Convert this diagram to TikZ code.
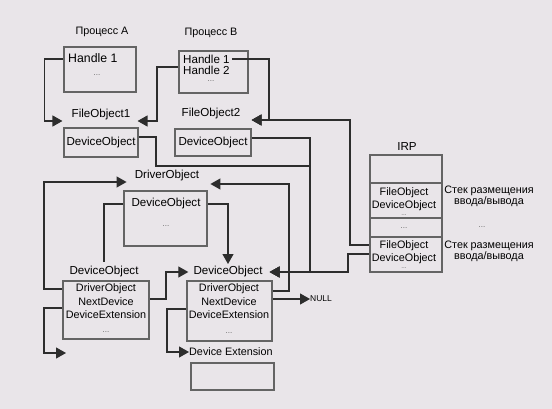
\documentclass[tikz,border=0pt]{standalone}
\usepackage{fontspec}
\setmainfont{Liberation Sans}
\usetikzlibrary{arrows.meta,calc}
\definecolor{bg}{RGB}{233,229,233}
\definecolor{boxc}{RGB}{100,100,100}
\definecolor{linec}{RGB}{45,45,45}
\begin{document}
\begin{tikzpicture}[x=1pt,y=-1pt,
  box/.style={draw=boxc,line width=1.6pt,inner sep=0pt},
  lbl/.style={inner sep=0pt,font=\fontsize{11.6}{13}\selectfont},
  plbl/.style={inner sep=0pt,font=\fontsize{10.8}{12}\selectfont},
  fld/.style={inner sep=0pt,font=\fontsize{10.8}{12}\selectfont},
  hnd/.style={inner sep=0pt,anchor=west,font=\fontsize{11.6}{12}\selectfont},
  dots/.style={inner sep=0pt,text=boxc,font=\fontsize{8}{9}\selectfont},
  conn/.style={draw=linec,line width=1.2pt,-{Triangle[length=10pt,width=11pt]}},
  plain/.style={draw=linec,line width=1.2pt}]
\fill[bg] (0,0) rectangle (552,409);
\useasboundingbox (0,0) rectangle (552,409);

% processes
\node[plbl] (lpa) at (102,32) {Процесс A};
\node[plbl] (lpb) at (211,33) {Процесс B};
\node[box,minimum width=72pt,minimum height=45pt] (pa) at (100,69.5) {};
\node[hnd,font=\fontsize{12.3}{13}\selectfont] (h1a) at (68,58) {Handle 1};
\node[dots] (da) at (97,75) {...};
\node[box,minimum width=69pt,minimum height=42pt] (pb) at (213.5,72) {};
\node[hnd] (h1b) at (183,59) {Handle 1};
\node[hnd] (h2b) at (183,70) {Handle 2};
\node[dots] (db) at (211,81.5) {...};

% file objects
\node[lbl] (fo1) at (101,115) {FileObject1};
\node[lbl] (fo2) at (211,114) {FileObject2};
\node[box,minimum width=74pt,minimum height=29pt,font=\fontsize{11.6}{13}\selectfont] (fd1) at (101,142.5) {DeviceObject};
\node[box,minimum width=76pt,minimum height=27pt,font=\fontsize{11.6}{13}\selectfont] (fd2) at (213,142.5) {DeviceObject};

% driver object
\node[lbl] (drv) at (167,176) {DriverObject};
\node[box,minimum width=83pt,minimum height=55pt] (drvbox) at (165.5,218.5) {};
\node[lbl] (drvdo) at (166,204) {DeviceObject};
\node[dots] (drvd) at (166,226) {...};

% device objects
\node[lbl] (ldo) at (104,272) {DeviceObject};
\node[box,minimum width=86pt,minimum height=58pt] (ldev) at (106,310) {};
\node[fld] (ldrv) at (106,289) {DriverObject};
\node[fld] (lnext) at (106,302) {NextDevice};
\node[fld] (lext) at (106,315) {DeviceExtension};
\node[dots] (ldots) at (106,332) {...};

\node[lbl] (rdo) at (228,272) {DeviceObject};
\node[box,minimum width=85pt,minimum height=60pt] (rdev) at (229.5,311) {};
\node[fld] (rdrv) at (229,289) {DriverObject};
\node[fld] (rnext) at (229,302) {NextDevice};
\node[fld] (rext) at (229,315) {DeviceExtension};
\node[dots] (rdots) at (229,333) {...};

\node[fld,anchor=west] (dext) at (189,352) {Device Extension};
\node[box,minimum width=83pt,minimum height=27pt] (dextbox) at (232.5,376.5) {};
\node[inner sep=0pt,anchor=west,font=\fontsize{8.5}{9}\selectfont] (null) at (310,299) {NULL};

% IRP
\node[lbl] (irp) at (407,147) {IRP};
\node[box,minimum width=72pt,minimum height=117pt] (irpbox) at (406,213.5) {};
\draw[draw=boxc,line width=1.6pt] (irpbox.west |- 0,183) -- (irpbox.east |- 0,183);
\draw[draw=boxc,line width=1.6pt] (irpbox.west |- 0,218) -- (irpbox.east |- 0,218);
\draw[draw=boxc,line width=1.6pt] (irpbox.west |- 0,237) -- (irpbox.east |- 0,237);
\node[fld] (foa) at (404,193) {FileObject};
\node[fld] (doa) at (404,205.5) {DeviceObject};
\node[dots,font=\fontsize{6.5}{7}\selectfont] (dta) at (404,215) {...};
\node[dots] (dtm) at (404,228) {...};
\node[fld] (fob) at (404,246) {FileObject};
\node[fld] (dob) at (404,258.5) {DeviceObject};
\node[dots,font=\fontsize{6.5}{7}\selectfont] (dtb) at (404,268) {...};

\node[fld,align=center] (s1) at (489,196.5) {Стек размещения\\[-1.3pt]ввода/вывода};
\node[dots] (sd) at (482,227) {...};
\node[fld,align=center] (s2) at (489,251.5) {Стек размещения\\[-1.3pt]ввода/вывода};

% connectors
\draw[conn] ($(pa.west)+(0,-10.5)$) -- ++(-19,0) |- ($(fo1.west)+(-9,6)$);
\draw[conn] ($(pb.west)+(0,-5)$) -- (157,67) |- ($(fo1.east)+(7,6)$);
\draw[conn] ($(h1b.east)+(2,0)$) -| (269,120) -- ($(fo2.east)+(11,6)$);
\draw[conn] (irpbox.west |- 0,245) -| (350,120) -- ($(fo2.east)+(11,6)$);

\draw[conn] ($(fd1.east)+(0,-5.5)$) -| (156,166) -| (310,272) -- ($(rdo.east)+(7,0)$);
\draw[conn] ($(fd2.east)+(0,-4.5)$) -| (310,272) -- ($(rdo.east)+(7,0)$);
\draw[conn] (irpbox.west |- 0,254) -| (348,272) -- ($(rdo.east)+(7,0)$);

\draw[conn] (ldev.west |- ldrv) -| (44,182) -- ($(drv.west)+(-8,6)$);
\draw[conn] ($(rdev.east |- rdrv)+(0,2)$) -| (289,184) -- ($(drv.east)+(11,8)$);
\draw[conn] (drvbox.east |- drvdo) -| (228,264);
\draw[plain] (drvbox.west |- drvdo) -| (104,262);

\draw[conn] ($(ldev.east |- lnext)+(0,-3)$) -| (166,272) -- ($(rdo.west)+(-5,0)$);
\coordinate (lfree) at (66,353);
\draw[conn] ($(ldev.west |- lext)+(0,-7)$) -| (44,353) -- (lfree);
\draw[conn] ($(rdev.west |- rext)+(0,-6)$) -| (167,352) -- (dext.west);
\draw[conn] ($(rdev.east |- rnext)+(0,-3)$) -- (null.west);
\end{tikzpicture}
\end{document}
